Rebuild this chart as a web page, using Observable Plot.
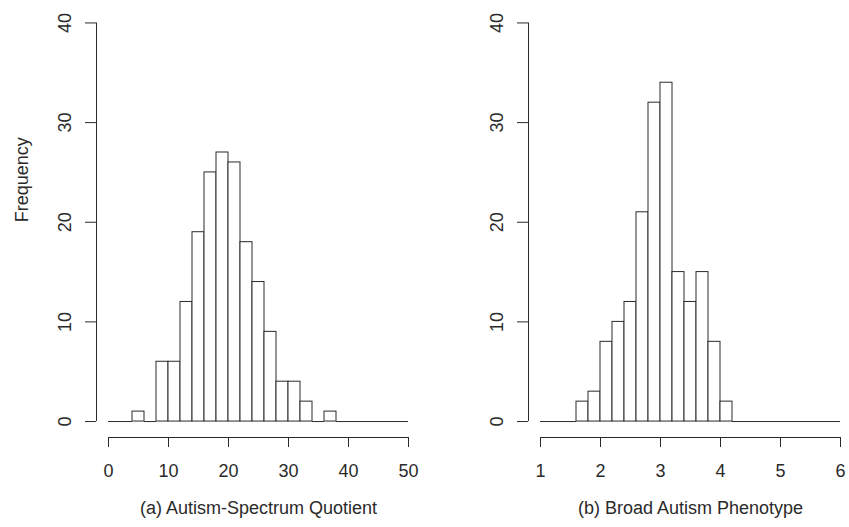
<!DOCTYPE html>
<html>
<head>
<meta charset="utf-8">
<script src="https://cdn.jsdelivr.net/npm/d3@7"></script>
<script src="https://cdn.jsdelivr.net/npm/@observablehq/plot@0.6"></script>
<style>
  html, body { margin: 0; padding: 0; background: #fff; overflow: hidden; }
  #wrap { position: relative; width: 849px; height: 527px; overflow: hidden; background: #fff; }
  #left, #right { position: absolute; top: 0; }
  #left { left: 0; width: 430px; }
  #right { left: 430px; width: 422px; }
  #wrap svg { max-width: none !important; }
</style>
</head>
<body>
<div id="wrap"><div id="left"></div><div id="right"></div></div>
<script>
// ---- Data ----
// (a) Autism-Spectrum Quotient: bin starts (width 2) and counts
const aqBinStart = [0, 2, 4, 6, 8, 10, 12, 14, 16, 18, 20, 22, 24, 26, 28, 30, 32, 34, 36, 38, 40, 42, 44, 46, 48];
const aqBinWidth = 2;
const aqCounts   = [0, 0, 1, 0, 6, 6, 12, 19, 25, 27, 26, 18, 14, 9, 4, 4, 2, 0, 1, 0, 0, 0, 0, 0, 0];
const aqTicks = [0, 10, 20, 30, 40, 50];
const aqTitle = "(a) Autism-Spectrum Quotient";

// (b) Broad Autism Phenotype: bin starts (width 0.2) and counts
const bapBinStart = [1.0, 1.2, 1.4, 1.6, 1.8, 2.0, 2.2, 2.4, 2.6, 2.8, 3.0, 3.2, 3.4, 3.6, 3.8, 4.0, 4.2, 4.4, 4.6, 4.8, 5.0, 5.2, 5.4, 5.6, 5.8];
const bapBinWidth = 0.2;
const bapCounts   = [0, 0, 0, 2, 3, 8, 10, 12, 21, 32, 34, 15, 12, 15, 8, 2, 0, 0, 0, 0, 0, 0, 0, 0, 0];
const bapTicks = [1, 2, 3, 4, 5, 6];
const bapTitle = "(b) Broad Autism Phenotype";

const yTicks = [0, 10, 20, 30, 40];
const yLabel = "Frequency";

// ---- Helpers ----
const FONT = "'Liberation Sans', Arial, Helvetica, sans-serif";
const INK = "#2a2a2a";
const pad4 = ([a, b]) => [a - (b - a) * 0.04, b + (b - a) * 0.04]; // R-style 4% axis extension

function histogram({starts, width, counts, ticks, title, showYLabel, svgWidth, marginLeft, marginRight}) {
  const bins = starts.map((s, i) => ({x1: s, x2: +(s + width).toFixed(6), n: counts[i]}));
  const xRange = [ticks[0], ticks[ticks.length - 1]];
  const yRange = [yTicks[0], yTicks[yTicks.length - 1]];
  const xDomain = pad4(xRange);
  const yDomain = pad4(yRange);
  const marks = [
    // bars
    Plot.rectY(bins.filter(d => d.n > 0), {x1: "x1", x2: "x2", y1: 0, y2: "n", fill: "white", stroke: INK, strokeWidth: 1}),
    // empty bins drawn as flat segments on the baseline (as R's hist does)
    Plot.ruleY(bins.filter(d => d.n === 0), {y: () => 0, x1: "x1", x2: "x2", stroke: INK, strokeWidth: 1}),
    // x axis line (R style: from first to last tick, at bottom of plot region)
    Plot.ruleY([yDomain[0]], {x1: xRange[0], x2: xRange[1], stroke: INK, strokeWidth: 1}),
    // y axis line (from first to last tick, at left of plot region)
    Plot.ruleX([xDomain[0]], {y1: yRange[0], y2: yRange[1], stroke: INK, strokeWidth: 1}),
    Plot.axisX({ticks, tickSize: 10, tickPadding: 17, stroke: INK, fill: INK, label: null, tickFormat: d => String(d)}),
    Plot.axisY({ticks: yTicks, tickSize: 11, tickPadding: 15, tickRotate: -90, stroke: INK, fill: INK, label: null, tickFormat: d => String(d)}),
    Plot.text([title], {frameAnchor: "bottom", dy: 71, fill: INK, lineAnchor: "middle"})
  ];
  if (showYLabel) {
    marks.push(Plot.text([yLabel], {frameAnchor: "left", dx: -74.5, rotate: -90, fill: INK, lineAnchor: "middle"}));
  }
  return Plot.plot({
    width: svgWidth,
    height: 527,
    marginLeft,
    marginRight,
    marginTop: 6.5,
    marginBottom: 90,
    x: {domain: xDomain},
    y: {domain: yDomain},
    style: {fontFamily: FONT, fontSize: "18px", color: INK, background: "white", overflow: "visible", maxWidth: "none"},
    marks
  });
}

document.getElementById("left").appendChild(histogram({
  starts: aqBinStart, width: aqBinWidth, counts: aqCounts, ticks: aqTicks, title: aqTitle,
  showYLabel: true, svgWidth: 430, marginLeft: 96, marginRight: 10
}));
document.getElementById("right").appendChild(histogram({
  starts: bapBinStart, width: bapBinWidth, counts: bapCounts, ticks: bapTicks, title: bapTitle,
  showYLabel: false, svgWidth: 422, marginLeft: 98, marginRight: 0
}));
</script>
</body>
</html>
